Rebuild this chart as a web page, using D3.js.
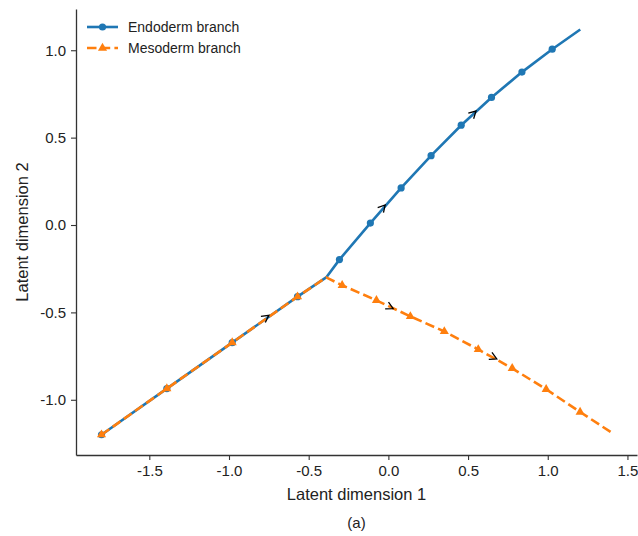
<!DOCTYPE html>
<html>
<head>
<meta charset="utf-8">
<script src="https://cdn.jsdelivr.net/npm/d3@7"></script>
<style>
  body { margin: 0; background: #fff; }
  svg { font-family: "Liberation Sans", Arial, sans-serif; }
</style>
</head>
<body>
<div class="chart"></div>
<script>
// path vertices of each branch (data coordinates)
let endoX = [-1.8, -1.39, -0.98, -0.57, -0.39, -0.307, -0.113, 0.08, 0.268, 0.457, 0.647, 0.838, 1.028, 1.204];
let endoY = [-1.2, -0.936, -0.673, -0.41, -0.3, -0.198, 0.011, 0.212, 0.397, 0.571, 0.73, 0.875, 1.006, 1.119];
let endoMarked = [0, 1, 2, 3, 5, 6, 7, 8, 9, 10, 11, 12];

let mesoX = [-1.8, -1.39, -0.98, -0.57, -0.39, -0.29, -0.075, 0.138, 0.351, 0.564, 0.777, 0.99, 1.203, 1.404];
let mesoY = [-1.2, -0.936, -0.673, -0.41, -0.3, -0.345, -0.431, -0.523, -0.609, -0.712, -0.82, -0.94, -1.07, -1.19];
let mesoMarked = [0, 1, 2, 3, 5, 6, 7, 8, 9, 10, 11, 12];

// direction arrows: tail -> tip, data coordinates
let arrowFromX = [-0.85, -0.06, 0.5, -0.02, 0.62];
let arrowFromY = [-0.5815, 0.073, 0.608, -0.456, -0.741];
let arrowToX = [-0.75, -0.02, 0.55, 0.03, 0.68];
let arrowToY = [-0.517, 0.115, 0.652, -0.478, -0.766];

let xTicks = [-1.5, -1.0, -0.5, 0.0, 0.5, 1.0, 1.5];
let yTicks = [-1.0, -0.5, 0.0, 0.5, 1.0];

let seriesNames = ["Endoderm branch", "Mesoderm branch"];

function drawChart() {
  let width = 638,
    height = 536,
    left = 76,
    right = 637,
    top = 9,
    bottom = 455,
    blue = "#1f77b4",
    orange = "#ff7f0e";

  let xScale = d3.scaleLinear().domain([-1.96, 1.56]).range([left, right]);
  let yScale = d3.scaleLinear().domain([-1.316, 1.236]).range([bottom, top]);

  let svg = d3
    .select(".chart")
    .append("svg")
    .attr("width", width)
    .attr("height", height);

  let fmt = (d) => d.toFixed(1);

  let xAxis = svg
    .append("g")
    .attr("transform", "translate(0," + bottom + ")")
    .call(d3.axisBottom(xScale).tickValues(xTicks).tickFormat(fmt).tickSize(5).tickSizeOuter(0).tickPadding(5));
  let yAxis = svg
    .append("g")
    .attr("transform", "translate(" + left + ",0)")
    .call(d3.axisLeft(yScale).tickValues(yTicks).tickFormat(fmt).tickSize(5).tickSizeOuter(0).tickPadding(5));

  [xAxis, yAxis].forEach((ax) => {
    ax.select(".domain").attr("stroke", "#333").attr("stroke-width", 1.3);
    ax.selectAll(".tick line").attr("stroke", "#333").attr("stroke-width", 1.1);
    ax.selectAll(".tick text")
      .attr("fill", "#222")
      .style("font-size", "15px")
      .style("font-family", "'Liberation Sans', Arial, sans-serif");
  });

  svg
    .append("text")
    .attr("x", (left + right) / 2)
    .attr("y", 500)
    .attr("text-anchor", "middle")
    .attr("fill", "#222")
    .style("font-size", "16.5px")
    .text("Latent dimension 1");

  svg
    .append("text")
    .attr("transform", "translate(28," + (top + bottom) / 2 + ") rotate(-90)")
    .attr("text-anchor", "middle")
    .attr("fill", "#222")
    .style("font-size", "16.5px")
    .text("Latent dimension 2");

  svg
    .append("text")
    .attr("x", (left + right) / 2)
    .attr("y", 528)
    .attr("text-anchor", "middle")
    .attr("fill", "#222")
    .style("font-size", "15px")
    .text("(a)");

  let line = d3
    .line()
    .x((d) => xScale(d[0]))
    .y((d) => yScale(d[1]));

  let endo = endoX.map((x, i) => [x, endoY[i]]);
  let meso = mesoX.map((x, i) => [x, mesoY[i]]);

  // endoderm
  svg
    .append("path")
    .attr("d", line(endo))
    .attr("fill", "none")
    .attr("stroke", blue)
    .attr("stroke-width", 2.6)
    .attr("stroke-linejoin", "round");
  svg
    .selectAll(".endo-pt")
    .data(endoMarked.map((i) => endo[i]))
    .enter()
    .append("circle")
    .attr("class", "endo-pt")
    .attr("cx", (d) => xScale(d[0]))
    .attr("cy", (d) => yScale(d[1]))
    .attr("r", 3.6)
    .attr("fill", blue);

  // mesoderm
  let tri = d3.symbol().type(d3.symbolTriangle).size(36);
  svg
    .append("path")
    .attr("d", line(meso))
    .attr("fill", "none")
    .attr("stroke", orange)
    .attr("stroke-width", 2.6)
    .attr("stroke-dasharray", "9.5,4.2");
  svg
    .selectAll(".meso-pt")
    .data(mesoMarked.map((i) => meso[i]))
    .enter()
    .append("path")
    .attr("class", "meso-pt")
    .attr("d", tri)
    .attr("transform", (d) => "translate(" + xScale(d[0]) + "," + yScale(d[1]) + ")")
    .attr("fill", orange);

  // arrowheads
  arrowToX.forEach((tx, i) => {
    let x1 = xScale(arrowFromX[i]),
      y1 = yScale(arrowFromY[i]),
      x2 = xScale(tx),
      y2 = yScale(arrowToY[i]);
    let a = Math.atan2(y2 - y1, x2 - x1),
      len = 8,
      spread = 0.5;
    let p1 = [x2 - len * Math.cos(a - spread), y2 - len * Math.sin(a - spread)];
    let p2 = [x2 - len * Math.cos(a + spread), y2 - len * Math.sin(a + spread)];
    svg
      .append("path")
      .attr("d", "M" + p1 + "L" + [x2, y2] + "L" + p2)
      .attr("fill", "none")
      .attr("stroke", "#000")
      .attr("stroke-width", 1.3)
      .attr("stroke-linejoin", "miter");
  });

  // legend
  let legend = svg.append("g").attr("transform", "translate(87,27)");
  seriesNames.forEach((name, i) => {
    let g = legend.append("g").attr("transform", "translate(0," + i * 21 + ")");
    g.append("line")
      .attr("x1", 0)
      .attr("x2", 31)
      .attr("stroke", i ? orange : blue)
      .attr("stroke-width", 2.6)
      .attr("stroke-dasharray", i ? "9.5,4.2" : null);
    if (i) {
      g.append("path").attr("d", tri).attr("transform", "translate(15.5,0)").attr("fill", orange);
    } else {
      g.append("circle").attr("cx", 15.5).attr("r", 3.6).attr("fill", blue);
    }
    g.append("text")
      .attr("x", 41)
      .attr("y", 5)
      .attr("fill", "#222")
      .style("font-size", "14px")
      .text(name);
  });
}

drawChart();
</script>
</body>
</html>
